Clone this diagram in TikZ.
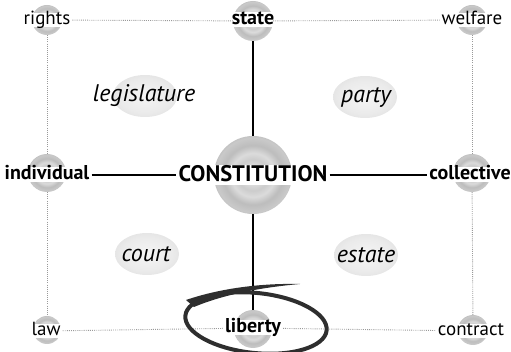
\documentclass[tikz,border=0pt]{standalone}
\usepackage{fontspec}
\setmainfont{PT Sans}
\usetikzlibrary{shapes.geometric}
\pgfdeclareradialshading{sphereshade}{\pgfpoint{0bp}{0bp}}{color(0bp)=(gray!12); color(6bp)=(gray!28); color(10bp)=(gray!40); color(14bp)=(gray!28); color(19bp)=(gray!52); color(24bp)=(gray!42); color(29bp)=(gray!65); color(34bp)=(gray!56); color(39bp)=(gray!78); color(44bp)=(gray!70); color(50bp)=(gray!95)}
\pgfdeclareradialshading{blobshade}{\pgfpoint{0bp}{0bp}}{color(0bp)=(gray!8); color(20bp)=(gray!16); color(38bp)=(gray!30); color(50bp)=(gray!38)}
\tikzset{
  sph/.style={circle, minimum size=#1, inner sep=0pt, shading=sphereshade},
  lbl/.style={fill=white, inner xsep=2pt, inner ysep=0pt, text height=12pt, text depth=2.5pt, font=\fontsize{19}{19}\selectfont},
  blbl/.style={lbl, text height=12.5pt, text depth=2.5pt, font=\bfseries\fontsize{20}{20}\selectfont},
  biglbl/.style={lbl, text height=16.5pt, text depth=4pt, font=\bfseries\fontsize{22.5}{22.5}\selectfont},
  blob/.style={ellipse, shading=blobshade, minimum width=64pt, minimum height=42pt, inner sep=0pt},
  itl/.style={font=\itshape\fontsize{24}{24}\selectfont},
  dotline/.style={gray!80, line width=0.9pt, dash pattern=on 0.9pt off 1.2pt},
  solidline/.style={black, line width=1.3pt},
  brush/.style={black!82, line width=4pt}
}
\begin{document}
\begin{tikzpicture}[x=1pt,y=-1pt]
\useasboundingbox (0,0) rectangle (511,352);
% spheres
\node[sph=30pt] (sR) at (47,20) {};
\node[sph=40pt] (sS) at (253,21) {};
\node[sph=30pt] (sW) at (472,20) {};
\node[sph=38pt] (sI) at (47,173) {};
\node[sph=78pt] (sC) at (253,175) {};
\node[sph=38pt] (sCol) at (472,173) {};
\node[sph=28pt] (sLaw) at (47,330) {};
\node[sph=38pt] (sLib) at (253,329) {};
\node[sph=30pt] (sCon) at (473,330) {};
% blobs
\node[blob] (bLeg) at (145,96) {};
\node[blob] (bPar) at (365,97) {};
\node[blob] (bCou) at (147,254) {};
\node[blob] (bEst) at (366,255) {};
\node[itl] (tLeg) at (144,96) {legislature};
\node[itl] (tPar) at (366,97) {party};
\node[itl] (tCou) at (146,254) {court};
\node[itl] (tEst) at (366,255) {estate};
% labels
\node[lbl] (tR) at (47,20) {rights};
\node[blbl] (tS) at (253,20) {state};
\node[lbl] (tW) at (472,20) {welfare};
\node[blbl] (tI) at (47,175) {individual};
\node[biglbl] (tC) at (253,175) {CONSTITUTION};
\node[blbl] (tCol) at (470,175) {collective};
\node[lbl] (tLaw) at (46,331) {law};
\node[blbl] (tLib) at (253,328) {liberty};
\node[lbl] (tCon) at (471,331) {contract};
% dotted connectors
\draw[dotline] (tR) -- (sS);
\draw[dotline] (sS) -- (tW);
\draw[dotline] (tLaw) -- (tLib);
\draw[dotline] (tLib) -- (tCon);
\draw[dotline] (sR) -- (sI);
\draw[dotline] (sI) -- (sLaw);
\draw[dotline] (sW) -- (sCol);
\draw[dotline] (sCol) -- (sCon);
% solid connectors
\draw[solidline] (sS) -- (sC);
\draw[solidline] (sC) -- (sLib);
\draw[solidline] (tI) -- (tC);
\draw[solidline] (tC) -- (tCol);
% brush circle
\draw[brush, rotate around={-6:(256,323)}] (256,323) ellipse [x radius=71pt, y radius=30pt];
\fill[black!82] (186,300) .. controls (215,290) and (255,283) .. (300,284)
   .. controls (255,288) and (220,296) .. (194,307) -- cycle;
\end{tikzpicture}
\end{document}
